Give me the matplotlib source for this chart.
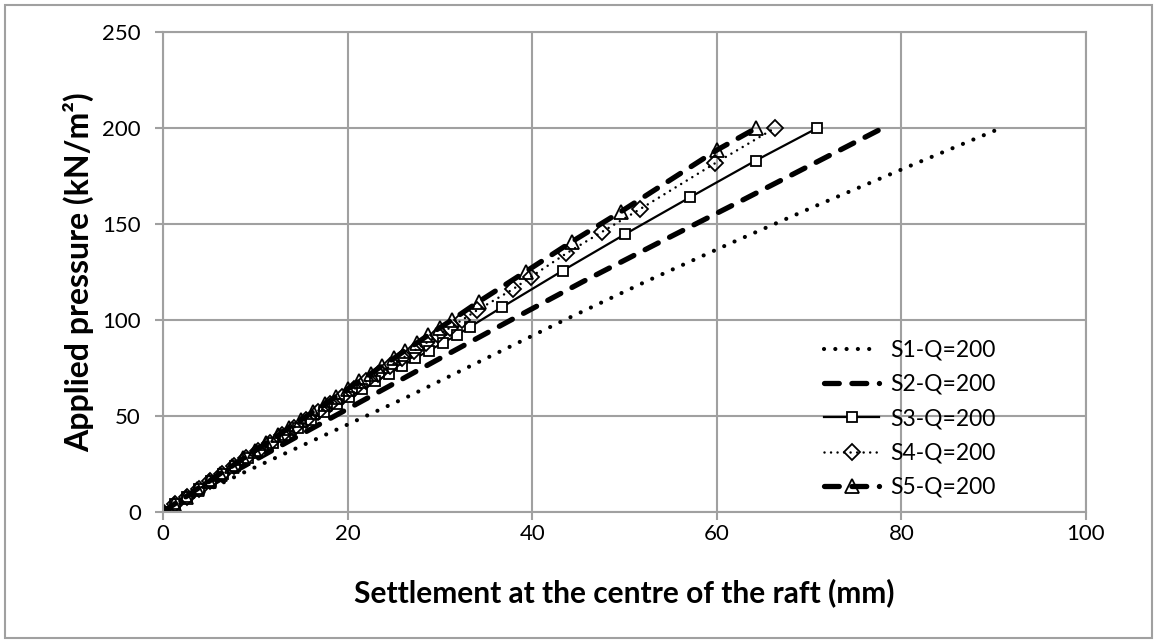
import matplotlib
matplotlib.use("Agg")
import matplotlib.pyplot as plt
from matplotlib.patches import Rectangle

plt.rcParams['font.family'] = ['Lato', 'DejaVu Sans']

# S1 and S2: lines only
s1_p = [0, 20, 40, 60, 80, 100, 120, 140, 160, 180, 200]
s1_s = [0, 8.5, 17.5, 26.5, 35.0, 43.5, 52.3, 61.5, 71.0, 80.8, 90.8]

s2_p = [0, 20, 40, 60, 80, 100, 120, 140, 160, 180, 200]
s2_s = [0, 7.3, 14.8, 22.4, 30.0, 37.7, 45.5, 53.6, 61.8, 69.9, 78.0]

# S3: squares
s3_p = [0, 4, 8, 12, 16, 20, 24, 28, 32, 36, 40, 44, 48, 52, 56, 60, 64, 68,
        72, 76, 80, 84, 88, 92, 96.5, 106.6, 125.7, 144.8, 163.9, 183, 200]
s3_s = [0, 1.3, 2.6, 3.9, 5.2, 6.5, 7.8, 9.2, 10.5, 11.9, 13.2, 14.6, 16.0,
        17.4, 18.8, 20.2, 21.6, 23.0, 24.5, 25.9, 27.3, 28.8, 30.3, 31.8, 33.3,
        36.7, 43.3, 50.1, 57.1, 64.2, 70.9]

# S4: diamonds
s4_p = [0, 4, 8, 12, 16, 20, 24, 28, 32, 36, 40, 44, 48, 52, 56, 60, 64, 68,
        72, 76, 80, 84, 88, 92, 96, 100, 105, 116, 122.6, 134.7, 146, 157.8,
        181.6, 200]
s4_s = [0, 1.3, 2.6, 3.85, 5.1, 6.4, 7.7, 9.0, 10.3, 11.6, 12.9, 14.2, 15.5,
        16.8, 18.1, 19.4, 20.7, 22.0, 23.3, 24.6, 25.9, 27.2, 28.5, 29.8, 31.1,
        32.4, 34.0, 37.9, 39.9, 43.7, 47.6, 51.7, 59.8, 66.3]

# S5: triangles
s5_p = [0, 4, 8, 12, 16, 20, 24, 28, 32, 36, 40, 44, 48, 52, 56, 60, 64, 68,
        72, 76, 80, 84, 88, 92, 96, 100, 109.5, 125.2, 140.8, 156.4, 188.5, 200]
s5_s = [0, 1.2, 2.5, 3.7, 5.0, 6.2, 7.5, 8.7, 10.0, 11.2, 12.5, 13.7, 15.0,
        16.2, 17.5, 18.7, 20.0, 21.2, 22.5, 23.7, 25.0, 26.2, 27.5, 28.7, 30.0,
        31.3, 34.2, 39.3, 44.3, 49.6, 60.0, 64.3]

labels = ['S1-Q=200', 'S2-Q=200', 'S3-Q=200', 'S4-Q=200', 'S5-Q=200']

fig = plt.figure(figsize=(11.57, 6.43), dpi=100)
ax = fig.add_axes([163/1157, 1 - 512/643, (1086 - 163)/1157, (512 - 32)/643])

grey = '#a0a0a0'
ax.plot(s1_s, s1_p, color='black', lw=3.0, linestyle=(0, (0.01, 2.7)),
        dash_capstyle='round', label=labels[0])
ax.plot(s2_s, s2_p, color='black', lw=3.8, linestyle=(0, (2.8, 2.4)),
        dash_capstyle='round', label=labels[1])
ax.plot(s3_s, s3_p, color='black', lw=1.6, marker='s', markersize=6.5,
        markerfacecolor='white', markeredgewidth=1.3, label=labels[2])
ax.plot(s4_s, s4_p, color='black', lw=1.8, linestyle=(0, (0.01, 2.6)),
        dash_capstyle='round', marker='D', markersize=8,
        markerfacecolor='none', markeredgewidth=1.3, label=labels[3])
ax.plot(s5_s, s5_p, color='black', lw=3.8, linestyle=(0, (2.8, 2.4)),
        dash_capstyle='round', marker='^', markersize=10.5,
        markerfacecolor='none', markeredgewidth=1.3, label=labels[4])

ax.set_xlim(0, 100)
ax.set_ylim(0, 250)
ax.set_xticks([0, 20, 40, 60, 80, 100])
ax.set_yticks([0, 50, 100, 150, 200, 250])
ax.grid(True, color=grey, lw=1.5)
ax.set_axisbelow(True)
for sp in ax.spines.values():
    sp.set_color(grey)
    sp.set_linewidth(1.5)
ax.tick_params(axis='both', colors=grey, labelcolor='black', labelsize=16,
               length=6, width=1.5)
ax.tick_params(axis='x', pad=3)
ax.tick_params(axis='y', pad=10)

ax.set_xlabel('Settlement at the centre of the raft (mm)', fontsize=21.5,
              fontweight='bold', labelpad=24)
ax.set_ylabel('Applied pressure (kN/m²)', fontsize=23, fontweight='bold',
              labelpad=6)

leg = ax.legend(loc='upper left', bbox_to_anchor=(0.694, 0.402), frameon=False,
                fontsize=16.5, handlelength=2.4, labelspacing=0.58,
                handletextpad=0.5)

fig.patches.append(Rectangle((5/1157, 5/643), 1 - 10/1157, 1 - 10/643,
                             transform=fig.transFigure, fill=False,
                             edgecolor=grey, lw=1.5))

fig.savefig('out.png', dpi=100)
